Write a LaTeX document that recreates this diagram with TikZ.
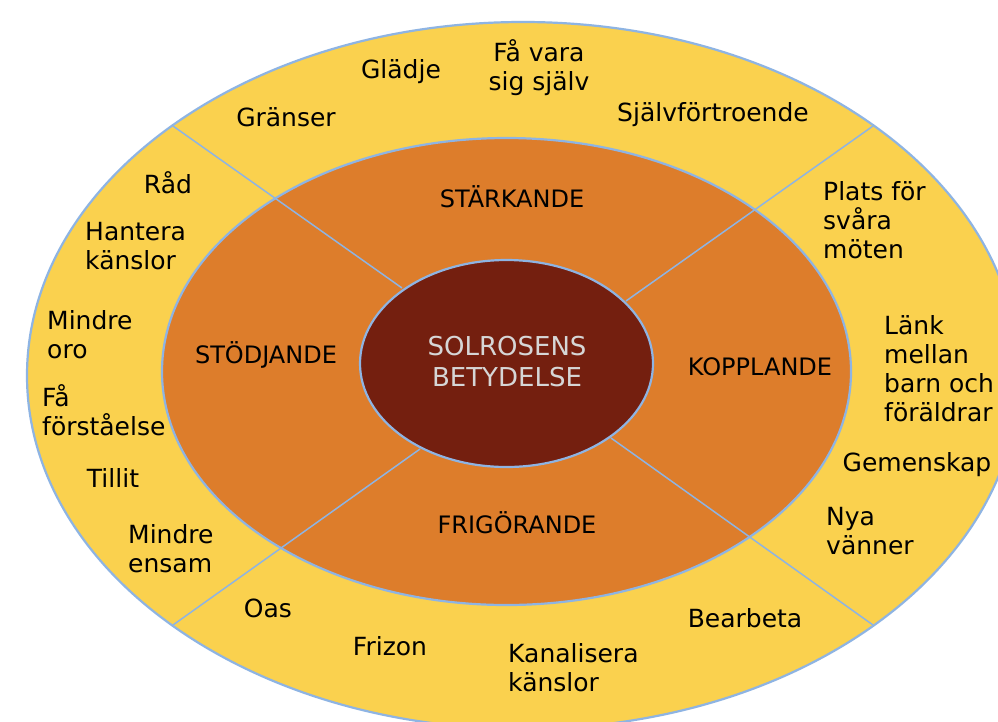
\documentclass[tikz,border=0pt]{standalone}
\usepackage{fontspec}
\setmainfont{DejaVu Sans}
\definecolor{ringyellow}{HTML}{FAD14E}
\definecolor{ringorange}{HTML}{DD7D2B}
\definecolor{coredark}{HTML}{741F0F}
\definecolor{edgeblue}{HTML}{8EB4E3}
\definecolor{coretext}{HTML}{D6D6D6}
\tikzset{
  ringedge/.style={draw=edgeblue, line width=2.2pt},
  divider/.style={draw=edgeblue, line width=1.5pt},
  word/.style={inner sep=0pt, text=black, font=\fontsize{25}{29}\selectfont},
  wordl/.style={word, anchor=west, align=left},
  catlabel/.style={inner sep=0pt, text=black, font=\fontsize{24}{29}\selectfont},
  corelabel/.style={inner sep=0pt, text=coretext, align=center, font=\fontsize{26}{31}\selectfont}
}
\begin{document}
\begin{tikzpicture}[x=1pt,y=-1pt]
\useasboundingbox (0,0) rectangle (998,721);
\clip (0,0) rectangle (998,721);
% rings
\fill[white] (0,0) rectangle (998,721);
\draw[ringedge, fill=ringyellow] (523,375.5) ellipse [x radius=496pt, y radius=353.5pt];
\draw[ringedge, fill=ringorange] (506.5,371.5) ellipse [x radius=344.5pt, y radius=233.5pt];
% dividers
\coordinate (ulin) at (402,288);  \coordinate (ulout) at (173,126);
\coordinate (urin) at (626,301);  \coordinate (urout) at (873,126);
\coordinate (llin) at (420,449);  \coordinate (llout) at (173,625);
\coordinate (lrin) at (611,438);  \coordinate (lrout) at (873,625);
\draw[divider] (ulin) -- (ulout);
\draw[divider] (urin) -- (urout);
\draw[divider] (llin) -- (llout);
\draw[divider] (lrin) -- (lrout);
\draw[ringedge, fill=coredark] (506.5,363.5) ellipse [x radius=146.5pt, y radius=103.5pt];
% centre
\node[corelabel] (core) at (507,362) {SOLROSENS\\BETYDELSE};
% categories
\node[catlabel] (stark) at (512,197) {STÄRKANDE};
\node[catlabel] (stod) at (266,355) {STÖDJANDE};
\node[catlabel] (koppl) at (760,367) {KOPPLANDE};
\node[catlabel] (frig) at (517,523) {FRIGÖRANDE};
% outer words
\node[word] (granser) at (286,117) {Gränser};
\node[word] (gladje) at (401,72) {Glädje};
\node[word, align=center] (favara) at (539,68) {Få vara\\sig själv};
\node[word] (sjalv) at (713,115) {Självförtroende};
\node[word] (rad) at (168,183) {Råd};
\node[wordl] (hantera) at (85,246) {Hantera\\känslor};
\node[wordl] (mindreoro) at (47,335) {Mindre\\oro};
\node[wordl] (forst) at (42,410) {Få\\förståelse};
\node[word] (tillit) at (113,478) {Tillit};
\node[wordl] (ensam) at (128,549) {Mindre\\ensam};
\node[word] (oas) at (268,608) {Oas};
\node[word] (frizon) at (390,646) {Frizon};
\node[wordl] (kanal) at (508,668) {Kanalisera\\känslor};
\node[word] (bearb) at (745,618) {Bearbeta};
\node[wordl] (nya) at (826,531) {Nya\\vänner};
\node[word] (gemen) at (917,465) {Gemenskap};
\node[wordl] (lank) at (884,369) {Länk\\mellan\\barn och\\föräldrar};
\node[wordl] (plats) at (823,220) {Plats för\\svåra\\möten};
\end{tikzpicture}
\end{document}
